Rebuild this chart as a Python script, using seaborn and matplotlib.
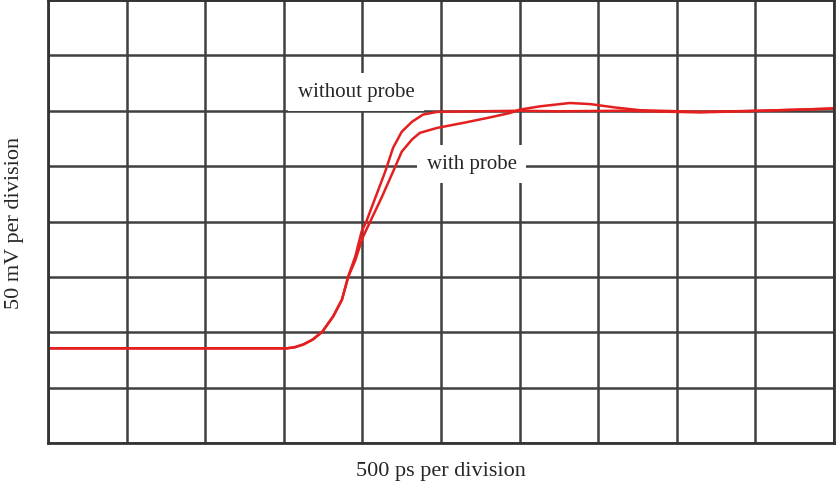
import matplotlib

matplotlib.use("Agg")
import matplotlib.pyplot as plt
import pandas as pd
import seaborn as sns

# trace values, in divisions (x: 500 ps/div, y: 50 mV/div)
without_x = [0.0, 3.04, 3.14, 3.25, 3.37, 3.49, 3.63, 3.74, 3.82, 3.91, 3.99,
             4.05, 4.17, 4.29, 4.39, 4.5, 4.63, 4.77, 4.95, 5.99, 6.5, 7.28,
             8.3, 9.06, 9.57, 10.0]
without_y = [1.71, 1.71, 1.73, 1.78, 1.87, 2.01, 2.29, 2.59, 3.01, 3.37, 3.82,
             4.0, 4.45, 4.9, 5.33, 5.62, 5.8, 5.93, 5.98, 6.0, 5.99, 6.0,
             5.97, 6.0, 6.02, 6.04]

with_x = [0.0, 3.04, 3.14, 3.25, 3.37, 3.49, 3.63, 3.74, 3.82, 3.91, 4.0,
          4.1, 4.25, 4.39, 4.5, 4.63, 4.73, 4.95, 5.28, 5.59, 5.88, 6.0,
          6.26, 6.64, 6.9, 7.21, 7.53, 8.3, 9.06, 10.0]
with_y = [1.71, 1.71, 1.73, 1.78, 1.87, 2.01, 2.29, 2.59, 3.0, 3.3, 3.7,
          4.0, 4.45, 4.9, 5.26, 5.48, 5.6, 5.69, 5.78, 5.87, 5.96, 6.02,
          6.08, 6.14, 6.12, 6.06, 6.01, 5.98, 6.0, 6.04]

n_xdiv = 10
n_ydiv = 8

sns.set_style("white")
plt.rcParams["font.family"] = ["Liberation Serif", "DejaVu Serif"]

df = pd.concat([
    pd.DataFrame({"t": without_x, "v": without_y, "trace": "without probe"}),
    pd.DataFrame({"t": with_x, "v": with_y, "trace": "with probe"}),
])

fig = plt.figure(figsize=(8.36, 4.85), dpi=100)
ax = fig.add_axes([48 / 836, 1 - 444 / 485, 786 / 836, 443 / 485])

sns.lineplot(data=df, x="t", y="v", units="trace", estimator=None,
             color="#e41f1f", lw=1.8, sort=False, ax=ax)

ax.set_xlim(0, n_xdiv)
ax.set_ylim(0, n_ydiv)
ax.set_xticks(range(n_xdiv + 1))
ax.set_yticks(range(n_ydiv + 1))
ax.grid(True, color="#404040", lw=1.8)
ax.set_axisbelow(True)
ax.tick_params(length=0, labelbottom=False, labelleft=False)
for s in ax.spines.values():
    s.set_color("#333333")
    s.set_linewidth(2)

ax.set_xlabel("500 ps per division", fontsize=16, labelpad=13)
ax.set_ylabel("50 mV per division", fontsize=16, labelpad=17)

box = dict(facecolor="white", edgecolor="none", pad=7)
ax.text(3.92, 6.34, "without probe", fontsize=15, ha="center", va="center", bbox=box)
ax.text(5.39, 5.04, "with probe", fontsize=15, ha="center", va="center", bbox=box)

fig.savefig("out.png", dpi=100)
